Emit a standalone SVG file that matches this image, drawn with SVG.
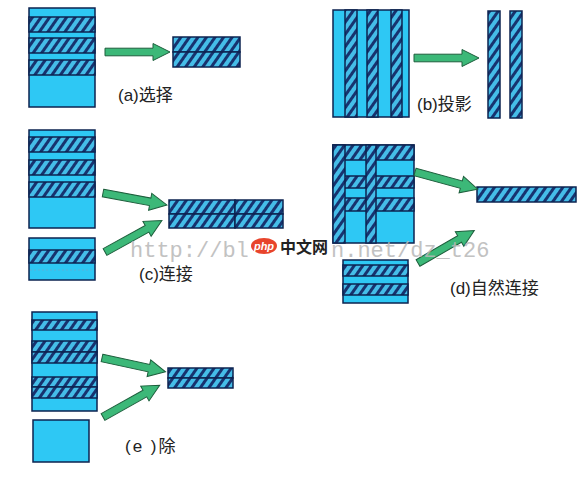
<svg xmlns="http://www.w3.org/2000/svg" xmlns:xlink="http://www.w3.org/1999/xlink" width="583" height="489" viewBox="0 0 583 489">
<style>
.c{fill:#2ec8f4;stroke:#0d2350;stroke-width:1.5}
.h{fill:url(#hatch);stroke:#0d2350;stroke-width:1.5}
.lbl{font-family:"Liberation Sans","Noto Sans CJK SC",sans-serif;font-size:17px;fill:#222}
.arr{fill:#3cb878;stroke:#1d5e3c;stroke-width:1}
.wm{font-family:"Liberation Mono",monospace;font-size:22px;fill:#b8b8b8;opacity:0.85}
</style>
<defs>
<pattern id="hatch" patternUnits="userSpaceOnUse" width="7" height="7" patternTransform="rotate(35)">
<rect width="7" height="7" fill="#45bde8"/>
<rect width="3" height="7" fill="#17336f"/>
</pattern>
<path id="arrow" d="M0,-3.8 H48 V-8.5 L65,0 L48,8.5 V3.8 H0 Z"/>
</defs>
<rect width="583" height="489" fill="#ffffff"/>

<g id="a-source">
<rect class="c" x="29" y="8" width="66" height="99"/>
<rect class="h" x="29" y="17" width="66" height="15"/>
<rect class="h" x="29" y="38" width="66" height="15"/>
<rect class="h" x="29" y="60" width="66" height="15"/>
</g>
<g id="a-result">
<rect class="h" x="173" y="37" width="67" height="15"/>
<rect class="h" x="173" y="52" width="67" height="15"/>
</g>
<g id="a-label"><text class="lbl" x="118" y="101" font-size="18">(a)选择</text></g>

<g id="b-source">
<rect class="c" x="333" y="10" width="76" height="107"/>
<rect class="h" x="345" y="10" width="12" height="107"/>
<rect class="h" x="367" y="10" width="11" height="107"/>
<rect class="h" x="391" y="10" width="11" height="107"/>
</g>
<g id="b-result">
<rect class="h" x="488" y="11" width="12" height="107"/>
<rect class="h" x="510" y="11" width="12" height="107"/>
</g>
<g id="b-label"><text class="lbl" x="417" y="110">(b)投影</text></g>

<g id="c-source1">
<rect class="c" x="29" y="130" width="66" height="98"/>
<rect class="h" x="29" y="137" width="66" height="15"/>
<rect class="h" x="29" y="160" width="66" height="15"/>
<rect class="h" x="29" y="182" width="66" height="15"/>
</g>
<g id="c-source2">
<rect class="c" x="29" y="238" width="66" height="42"/>
<rect class="h" x="29" y="250" width="66" height="13"/>
<line x1="30" y1="270" x2="94" y2="270" stroke="#5ab0d8" stroke-width="1" stroke-dasharray="2,2"/>
</g>
<g id="c-result">
<rect class="h" x="169" y="200" width="66" height="14"/>
<rect class="h" x="169" y="214" width="66" height="14"/>
<rect class="h" x="235" y="200" width="48" height="14"/>
<rect class="h" x="235" y="214" width="48" height="14"/>
</g>
<g id="c-label"><text class="lbl" x="139" y="280">(c)连接</text></g>

<g id="d-source1">
<rect class="c" x="333" y="145" width="81" height="98"/>
<rect class="h" x="333" y="145" width="81" height="15"/>
<rect class="h" x="333" y="176" width="81" height="12"/>
<rect class="h" x="333" y="198" width="81" height="13"/>
<rect class="h" x="333" y="145" width="12" height="98"/>
<rect class="h" x="366" y="145" width="10" height="98"/>
</g>
<g id="d-source2">
<rect class="c" x="343" y="260" width="65" height="43"/>
<rect class="h" x="343" y="265" width="65" height="11"/>
<rect class="h" x="343" y="284" width="65" height="11"/>
</g>
<g id="d-result">
<rect class="h" x="477" y="187" width="99" height="15"/>
</g>
<g id="d-label"><text class="lbl" x="450" y="294">(d)自然连接</text></g>

<g id="e-source1">
<rect class="c" x="32" y="312" width="65" height="99"/>
<rect class="h" x="32" y="320" width="65" height="10"/>
<rect class="h" x="32" y="341" width="65" height="11"/>
<rect class="h" x="32" y="352" width="65" height="11"/>
<rect class="h" x="32" y="377" width="65" height="10"/>
<rect class="h" x="32" y="387" width="65" height="11"/>
</g>
<g id="e-source2">
<rect class="c" x="33" y="420" width="56" height="42"/>
</g>
<g id="e-result">
<rect class="h" x="168" y="368" width="65" height="10"/>
<rect class="h" x="168" y="378" width="65" height="10"/>
</g>
<g id="e-label"><text class="lbl" x="125" y="452" font-size="18" letter-spacing="2">(e )除</text></g>

<g id="connectors">
<use href="#arrow" class="arr" transform="translate(105,52)"/>
<use href="#arrow" class="arr" transform="translate(414,58)"/>
<use href="#arrow" class="arr" transform="translate(103,193) rotate(10.6)"/>
<use href="#arrow" class="arr" transform="translate(105,252) rotate(-28.9)"/>
<use href="#arrow" class="arr" transform="translate(415,172) rotate(15.3)"/>
<use href="#arrow" class="arr" transform="translate(418,263) rotate(-30)"/>
<use href="#arrow" class="arr" transform="translate(102,358) rotate(12.2)"/>
<use href="#arrow" class="arr" transform="translate(103,417) rotate(-29.3)"/>
</g>

<g id="watermark">
<text class="wm" x="130" y="257">http://bl</text>
<text class="wm" x="331" y="257">n.net/dz_t26</text>
<ellipse cx="264" cy="246" rx="13" ry="8" fill="#e8442c"/>
<text x="264" y="250" text-anchor="middle" font-family="Liberation Sans,sans-serif" font-size="11" font-style="italic" font-weight="bold" fill="#ffffff">php</text>
<text x="280" y="253" font-family="Noto Sans CJK SC,sans-serif" font-size="16" font-weight="bold" fill="#222">中文网</text>
</g>
</svg>
